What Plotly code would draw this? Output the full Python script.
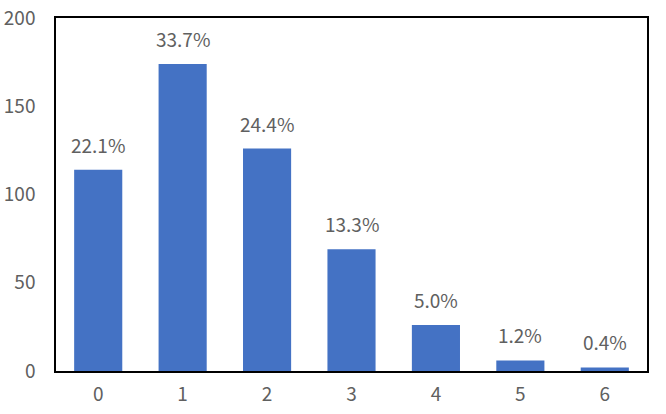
import plotly.graph_objects as go

categories = ["0", "1", "2", "3", "4", "5", "6"]
counts = [114, 174, 126, 69, 26, 6, 2]
pct_labels = ["22.1%", "33.7%", "24.4%", "13.3%", "5.0%", "1.2%", "0.4%"]

FONT = "Noto Sans CJK JP"
GREY = "#606060"

fig = go.Figure(go.Bar(
    x=categories,
    y=counts,
    marker=dict(color="#4472C4", line=dict(width=0)),
    width=0.57,
    hoverinfo="skip",
))

# percentage labels floating above each bar
for cat, val, lab in zip(categories, counts, pct_labels):
    fig.add_annotation(
        x=cat, y=val, text=lab, showarrow=False,
        yanchor="bottom", yshift=10,
        font=dict(family=FONT, size=19, color=GREY),
    )

fig.update_layout(
    width=666, height=414,
    margin=dict(l=56, r=19, t=18, b=43),
    paper_bgcolor="white", plot_bgcolor="white",
    showlegend=False,
    font=dict(family=FONT, size=19, color=GREY),
    xaxis=dict(
        showline=True, linecolor="black", linewidth=1.5, mirror=True,
        showgrid=False, ticks="", ticklabelstandoff=5, automargin=False,
    ),
    yaxis=dict(
        range=[0, 200], dtick=50,
        showline=True, linecolor="black", linewidth=1.5, mirror=True,
        showgrid=False, zeroline=False, ticks="", ticklabelstandoff=15,
        automargin=False,
    ),
)

# drop the default body margin so the figure sits at the window's corner
fig.write_html(
    "out.html",
    config={"displayModeBar": False},
    post_script="document.body.style.margin='0';",
)
